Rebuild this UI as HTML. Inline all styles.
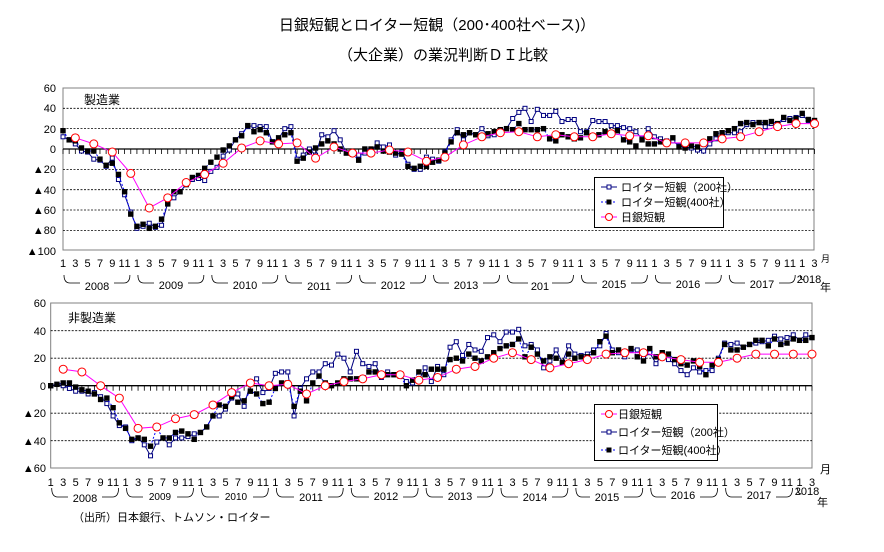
<!DOCTYPE html>
<html><head><meta charset="utf-8"><style>
body{margin:0;background:#fff;}
svg{display:block;font-family:"Liberation Sans","Noto Sans CJK JP",sans-serif;}
.t{font-size:15px;}
.l{font-size:11px;}
.m{font-size:11px;text-anchor:middle;}
.y{font-size:11px;text-anchor:end;}
</style></head><body>
<svg id="s" width="884" height="552" viewBox="0 0 884 552" xmlns="http://www.w3.org/2000/svg">
<rect width="884" height="552" fill="#fff"/>
<text class="t" x="437" y="30" text-anchor="middle">日銀短観とロイター短観（200･400社ベース)）</text>
<text class="t" x="443" y="60" text-anchor="middle">（大企業）の業況判断ＤＩ比較</text>
<g id="grid"></g>
<text class="l" x="84" y="104" style="font-size:12px">製造業</text>
<text class="l" x="68" y="322" style="font-size:12px">非製造業</text>
<g class="y">
<text x="56" y="92">60</text><text x="56" y="112">40</text><text x="56" y="133">20</text><text x="56" y="153">0</text>
<text x="56" y="173">▲20</text><text x="56" y="194">▲40</text><text x="56" y="214">▲60</text><text x="56" y="234">▲80</text><text x="56" y="255">▲100</text>
<text x="46" y="307">60</text><text x="46" y="335">40</text><text x="46" y="362">20</text><text x="46" y="390">0</text>
<text x="46" y="417">▲20</text><text x="46" y="445">▲40</text><text x="46" y="472">▲60</text>
</g>
<g class="m">
<text transform="translate(63,267)" x="0 12.3 24.6 37 49.3 58.6 64.6">1357911</text>
<text transform="translate(136.9,267)" x="0 12.3 24.6 37 49.3 58.6 64.6">1357911</text>
<text transform="translate(210.8,267)" x="0 12.3 24.6 37 49.3 58.6 64.6">1357911</text>
<text transform="translate(284.8,267)" x="0 12.3 24.6 37 49.3 58.6 64.6">1357911</text>
<text transform="translate(358.7,267)" x="0 12.3 24.6 37 49.3 58.6 64.6">1357911</text>
<text transform="translate(432.6,267)" x="0 12.3 24.6 37 49.3 58.6 64.6">1357911</text>
<text transform="translate(506.5,267)" x="0 12.3 24.6 37 49.3 58.6 64.6">1357911</text>
<text transform="translate(580.4,267)" x="0 12.3 24.6 37 49.3 58.6 64.6">1357911</text>
<text transform="translate(654.4,267)" x="0 12.3 24.6 37 49.3 58.6 64.6">1357911</text>
<text transform="translate(728.3,267)" x="0 12.3 24.6 37 49.3 58.6 64.6">1357911</text>
<text transform="translate(802.2,267)" x="0 12.3">13</text>
</g>
<g class="m">
<text x="97" y="290">2008</text><text x="171" y="289">2009</text><text x="245" y="289">2010</text>
<text x="319" y="290">2011</text><text x="393" y="289">2012</text><text x="466" y="289">2013</text>
<text x="540" y="290">201</text><text x="614" y="288">2015</text><text x="688" y="288">2016</text>
<text x="762" y="288">2017</text><text x="809" y="283">2018</text>
</g>
<text class="l" x="821" y="262" style="font-size:9px">月</text>
<text class="l" x="820" y="291">年</text>
<g class="m">
<text transform="translate(50.7,486)" x="0 12.5 25 37.4 49.9 59.4 65.4">1357911</text>
<text transform="translate(125.6,486)" x="0 12.5 25 37.4 49.9 59.4 65.4">1357911</text>
<text transform="translate(200.5,486)" x="0 12.5 25 37.4 49.9 59.4 65.4">1357911</text>
<text transform="translate(275.3,486)" x="0 12.5 25 37.4 49.9 59.4 65.4">1357911</text>
<text transform="translate(350.2,486)" x="0 12.5 25 37.4 49.9 59.4 65.4">1357911</text>
<text transform="translate(425.1,486)" x="0 12.5 25 37.4 49.9 59.4 65.4">1357911</text>
<text transform="translate(500,486)" x="0 12.5 25 37.4 49.9 59.4 65.4">1357911</text>
<text transform="translate(574.9,486)" x="0 12.5 25 37.4 49.9 59.4 65.4">1357911</text>
<text transform="translate(649.7,486)" x="0 12.5 25 37.4 49.9 59.4 65.4">1357911</text>
<text transform="translate(724.6,486)" x="0 12.5 25 37.4 49.9 59.4 65.4">1357911</text>
<text transform="translate(799.5,486)" x="0 12.5">13</text>
</g>
<g class="m">
<text x="85" y="502">2008</text><text x="160" y="500" style="font-size:10px">2009</text><text x="236" y="500" style="font-size:10px">2010</text>
<text x="311" y="501">2011</text><text x="386" y="500">2012</text><text x="460" y="500">2013</text>
<text x="535" y="501">2014</text><text x="607" y="501">2015</text><text x="683" y="499">2016</text>
<text x="759" y="499">2017</text><text x="807" y="495">2018</text>
</g>
<text class="l" x="820" y="473">月</text>
<text class="l" x="817" y="506">年</text>
<text class="l" x="73" y="521">（出所）日本銀行、トムソン・ロイター</text>
<rect x="594.5" y="177.5" width="129" height="50" fill="#fff" stroke="#000"/>
<line x1="601" y1="187" x2="617" y2="187" stroke="#000080"/><rect x="607" y="185" width="4" height="4" fill="#fff" stroke="#000080"/>
<text class="l" x="621" y="191">ロイター短観（200社）</text>
<line x1="601" y1="202" x2="617" y2="202" stroke="#0000ff" stroke-dasharray="2,2"/><rect x="606.5" y="199.5" width="5" height="5" fill="#000"/>
<text class="l" x="621" y="206">ロイター短観(400社）</text>
<line x1="601" y1="217" x2="617" y2="217" stroke="#ff00ff"/><circle cx="609" cy="217" r="3.5" fill="#fff" stroke="#ff0000"/>
<text class="l" x="621" y="221">日銀短観</text>

<rect x="594.5" y="404.5" width="123" height="56" fill="#fff" stroke="#000"/>
<line x1="601" y1="414" x2="617" y2="414" stroke="#ff00ff"/><circle cx="609" cy="414" r="3.5" fill="#fff" stroke="#ff0000"/>
<text class="l" x="618" y="418">日銀短観</text>
<line x1="601" y1="432" x2="617" y2="432" stroke="#000080"/><rect x="607" y="430" width="4" height="4" fill="#fff" stroke="#000080"/>
<text class="l" x="618" y="436">ロイター短観（200社）</text>
<line x1="601" y1="450" x2="617" y2="450" stroke="#0000ff" stroke-dasharray="2,2"/><rect x="606.5" y="447.5" width="5" height="5" fill="#000"/>
<text class="l" x="618" y="454">ロイター短観(400社）</text>
<g id="data"></g>
</svg>
<script>
var NS="http://www.w3.org/2000/svg";
function el(p,t,a){var e=document.createElementNS(NS,t);for(var k in a)e.setAttribute(k,a[k]);p.appendChild(e);return e;}
var G=document.getElementById('grid'),D=document.getElementById('data');
var C=[{x0:63,x1:814,y0:88,y1:250,zero:149,sc:1.017,step:6.16,min:-100,max:60,by:275,bh:283,yrw:73.92},
       {x0:50.7,x1:812,y0:303,y1:468,zero:385.7,sc:1.375,step:6.24,min:-60,max:60,by:488,bh:497,yrw:74.88}];
C.forEach(function(c,ci){
 el(G,'rect',{x:c.x0,y:c.y0,width:c.x1-c.x0,height:c.y1-c.y0,fill:'#fff',stroke:'#808080'});
 for(var v=c.min+20;v<c.max;v+=20){var y=c.zero-v*c.sc;
  if(v==0)el(G,'line',{x1:c.x0,x2:c.x1,y1:y,y2:y,stroke:'#000','stroke-width':1.3});
  else el(G,'line',{x1:c.x0,x2:c.x1,y1:y,y2:y,stroke:'#000','stroke-dasharray':'2,1.5','stroke-width':0.8});}
 for(var i=0;i<=122;i++){var x=c.x0+i*c.step;el(G,'line',{x1:x,x2:x,y1:c.zero,y2:c.zero+5,stroke:'#000','stroke-width':0.8});}
 var yrs=ci==0?[97,171,245,319,393,466,540,614,688,762]:[85,160,236,311,386,460,535,607,683,759];
 for(var k=0;k<10;k++){var a=c.x0+c.yrw*k+1,b=a+c.yrw-8,m=yrs[k],g=ci==0&&k==6?12:17;
  el(G,'path',{d:'M'+a+','+c.by+' Q'+a+','+c.bh+' '+(a+6)+','+c.bh+' L'+(m-g)+','+c.bh+' M'+(m+g)+','+c.bh+' L'+(b-6)+','+c.bh+' Q'+b+','+c.bh+' '+b+','+c.by,fill:'none',stroke:'#000','stroke-width':0.8});}
 var a2=c.x0+c.yrw*10-2;el(G,'path',{d:'M'+a2+','+c.by+' Q'+a2+','+(c.bh-3)+' '+(a2+4)+','+(c.bh-3),fill:'none',stroke:'#000','stroke-width':0.8});
});
var T4=[18,9,8,1,-2,-2,-10,-16,-14,-25,-42,-64,-76,-74,-78,-76,-69,-54,-42,-42,-35,-28,-26,-19,-13,-8,-1,3,9,13,23,17,19,16,7,11,14,16,-12,-9,-3,1,5,8,5,0,-4,-5,-11,0,0,2,-2,-3,-4,-5,-17,-19,-17,-17,-13,-11,-4,7,16,14,16,14,13,15,17,19,20,19,25,19,19,19,20,10,8,14,12,10,11,16,13,14,17,14,18,9,7,3,9,5,5,7,6,11,2,1,3,2,5,10,15,16,18,20,25,26,24,26,26,27,25,31,28,30,35,29,28];
var T2=[12,9,5,-2,-3,-10,-11,-17,-9,-30,-45,-62,-78,-76,-73,-77,-75,-53,-48,-42,-35,-30,-29,-31,-22,-18,-7,-1,9,15,22,23,22,22,7,10,20,22,-10,-6,0,-6,14,12,18,9,-4,-5,-6,-4,-3,6,2,4,-6,-3,-15,-20,-20,-8,-10,-12,-3,9,19,9,16,14,20,13,14,18,20,30,36,40,27,39,33,33,37,27,29,29,17,17,28,27,27,23,23,21,20,17,10,20,12,10,8,8,3,2,1,-1,-2,5,10,13,16,16,17,24,26,26,22,25,24,29,30,31,33,28,28];
var TT=[11,5,-3,-24,-58,-48,-33,-25,-14,1,8,5,6,-9,2,-4,-4,-1,-3,-12,-8,4,12,16,17,12,14,12,12,15,13,13,6,6,6,10,12,17,22,25,25];
var B4=[0,1,2,2,-1,-3,-4,-6,-10,-9,-16,-27,-31,-39,-38,-39,-44,-31,-38,-38,-34,-33,-35,-39,-34,-30,-22,-14,-15,-8,-12,-11,-4,-6,-13,-12,-2,2,2,-15,-4,-11,2,7,2,0,2,5,5,5,5,10,10,8,8,8,7,0,4,10,8,12,12,
12,19,20,18,23,20,18,21,24,27,29,30,34,21,28,23,18,21,20,17,23,20,21,21,24,32,36,24,26,23,27,21,18,27,21,24,23,19,16,15,18,14,8,15,19,30,26,26,28,30,33,33,29,34,30,31,34,33,33,35];
var B2=[0,1,0,-2,-4,-4,-6,-5,-8,-13,-22,-29,-30,-40,-38,-43,-51,-41,-38,-43,-38,-38,-37,-35,-34,-30,-22,-22,-17,-9,-6,-15,2,5,-5,-2,9,10,10,-22,-2,5,10,10,16,15,23,20,10,25,16,14,16,6,10,8,8,3,2,4,13,3,14,
8,28,32,22,30,26,25,35,37,32,39,39,41,29,30,26,13,18,26,17,29,23,22,23,26,29,38,26,24,21,26,26,20,24,16,23,19,16,11,8,13,10,11,11,20,31,30,31,28,30,31,32,33,36,34,35,37,33,37,35];
var BT=[12,10,0,-9,-31,-30,-24,-21,-14,-5,2,0,1,-6,0,3,5,8,8,4,6,12,14,20,24,19,13,16,19,23,24,24,21,19,17,17,20,23,23,23,23];
function px(c,i){return c.x0+i*c.step;}function py(c,v){return c.zero-v*c.sc;}
function ser(c,arr,q,type){var pts=[],idx=[];for(var k=0;k<arr.length;k++){var i=q?2+3*k:k;pts.push(px(c,i).toFixed(1)+','+py(c,arr[k]).toFixed(1));idx.push(i);}
 var st={fill:'none'};
 if(type==2){st.stroke='#000080';st['stroke-width']=1;}
 if(type==4){st.stroke='#0000ff';st['stroke-width']=1;st['stroke-dasharray']='2,2';}
 if(type==0){st.stroke='#ff00ff';st['stroke-width']=1;}
 st.points=pts.join(' ');el(D,'polyline',st);
 for(var k=0;k<arr.length;k++){var x=px(c,idx[k]),y=py(c,arr[k]);
  if(type==2)el(D,'rect',{x:x-2,y:y-2,width:4,height:4,fill:'#fff',stroke:'#000080','stroke-width':1});
  if(type==4)el(D,'rect',{x:x-2.7,y:y-2.7,width:5.4,height:5.4,fill:'#000'});
  if(type==0)el(D,'circle',{cx:x,cy:y,r:4,fill:'#fff',stroke:'#ff0000','stroke-width':1});}}
ser(C[0],T2,false,2);ser(C[0],T4,false,4);ser(C[0],TT,true,0);
ser(C[1],B2,false,2);ser(C[1],B4,false,4);ser(C[1],BT,true,0);
</script>
</body></html>
